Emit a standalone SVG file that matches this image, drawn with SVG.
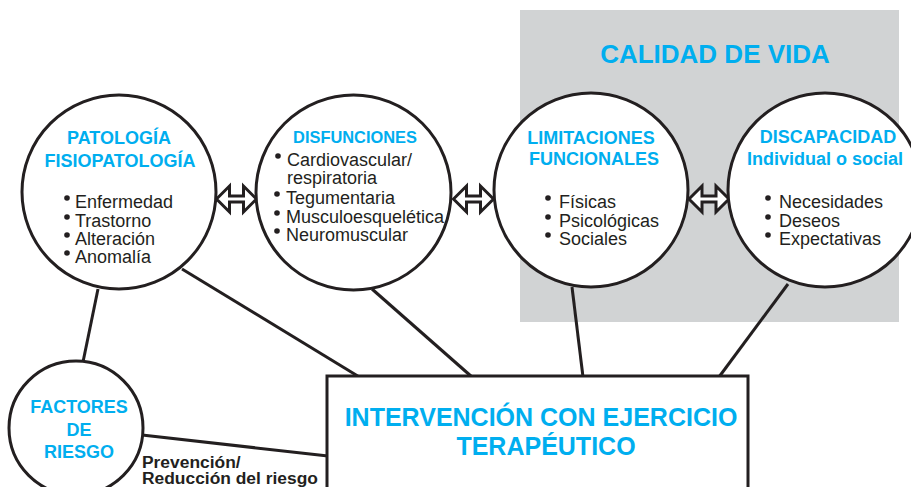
<svg xmlns="http://www.w3.org/2000/svg" width="911" height="487" viewBox="0 0 911 487">
<style>
text{font-family:"Liberation Sans",Arial,Helvetica,sans-serif}
.t{font-weight:bold;fill:#00AEEF;font-size:18px;text-anchor:middle}
.b{fill:#231F20;font-size:18px}
.k{fill:#231F20;font-size:17.4px;font-weight:bold}
.c{fill:#fff;stroke:#231F20;stroke-width:3}
.l{stroke:#231F20;stroke-width:3;fill:none}
.a{fill:#fff;stroke:#231F20;stroke-width:3;stroke-miterlimit:10}
</style>
<defs>
<polygon id="dbl" class="a" points="-20,0 -7,-13 -7,-3 7,-3 7,-13 20,0 7,13 7,3 -7,3 -7,13"/>
<circle id="bul" cx="0" cy="0" r="2.8" fill="#231F20"/>
</defs>
<rect x="520" y="10" width="379" height="312" fill="#D1D3D4"/>
<text x="715" y="63" style="font-weight:bold;fill:#00AEEF;font-size:26px;text-anchor:middle">CALIDAD DE VIDA</text>
<g id="connectors">
<line class="l" x1="98" y1="289" x2="83" y2="362"/>
<line class="l" x1="182" y1="269" x2="361" y2="378"/>
<line class="l" x1="372" y1="289" x2="472" y2="377"/>
<line class="l" x1="572" y1="287" x2="583" y2="377"/>
<line class="l" x1="788" y1="284" x2="719" y2="377"/>
<line class="l" x1="142" y1="435" x2="328" y2="456"/>
<use href="#dbl" x="236.5" y="199"/>
<use href="#dbl" x="473.5" y="199"/>
<use href="#dbl" x="709" y="199"/>
</g>
<g id="patologia">
<circle class="c" cx="119" cy="192" r="97"/>
<text class="t" x="119" y="144">PATOLOGÍA</text>
<text class="t" x="120" y="167">FISIOPATOLOGÍA</text>
<use href="#bul" x="67" y="198"/><text class="b" x="75" y="208">Enfermedad</text>
<use href="#bul" x="67" y="217"/><text class="b" x="75" y="227">Trastorno</text>
<use href="#bul" x="67" y="235"/><text class="b" x="75" y="245">Alteración</text>
<use href="#bul" x="67" y="253"/><text class="b" x="75" y="263">Anomalía</text>
</g>
<g id="disfunciones">
<circle class="c" cx="353.5" cy="192.5" r="97.5"/>
<text class="t" x="355" y="143" style="font-size:16.4px">DISFUNCIONES</text>
<use href="#bul" x="278" y="156"/><text class="b" x="287" y="166">Cardiovascular/</text>
<text class="b" x="287" y="184">respiratoria</text>
<use href="#bul" x="277" y="194"/><text class="b" x="286" y="204">Tegumentaria</text>
<use href="#bul" x="277" y="213"/><text class="b" x="286" y="223">Musculoesquelética</text>
<use href="#bul" x="277" y="231"/><text class="b" x="286" y="241">Neuromuscular</text>
</g>
<g id="limitaciones">
<circle class="c" cx="591" cy="190" r="97"/>
<text class="t" x="591" y="144">LIMITACIONES</text>
<text class="t" x="594" y="165">FUNCIONALES</text>
<use href="#bul" x="548" y="198"/><text class="b" x="559" y="208">Físicas</text>
<use href="#bul" x="548" y="217"/><text class="b" x="559" y="227">Psicológicas</text>
<use href="#bul" x="548" y="235"/><text class="b" x="559" y="245">Sociales</text>
</g>
<g id="discapacidad">
<circle class="c" cx="825" cy="190" r="97"/>
<text class="t" x="828" y="143">DISCAPACIDAD</text>
<text class="t" x="825" y="165">Individual o social</text>
<use href="#bul" x="768" y="198"/><text class="b" x="779" y="208">Necesidades</text>
<use href="#bul" x="768" y="217"/><text class="b" x="779" y="227">Deseos</text>
<use href="#bul" x="768" y="235"/><text class="b" x="779" y="245">Expectativas</text>
</g>
<g id="factores">
<circle class="c" cx="76" cy="428" r="67"/>
<text class="t" x="79" y="413">FACTORES</text>
<text class="t" x="79" y="436">DE</text>
<text class="t" x="79" y="458">RIESGO</text>
</g>
<g id="label-prevencion">
<text class="k" x="142" y="468">Prevención/</text>
<text class="k" x="142" y="484">Reducción del riesgo</text>
</g>
<g id="intervencion">
<rect class="c" x="327" y="376" width="421" height="150"/>
<text class="t" x="541" y="426" style="font-size:25px">INTERVENCIÓN CON EJERCICIO</text>
<text class="t" x="546" y="455" style="font-size:25px">TERAPÉUTICO</text>
</g>
</svg>
